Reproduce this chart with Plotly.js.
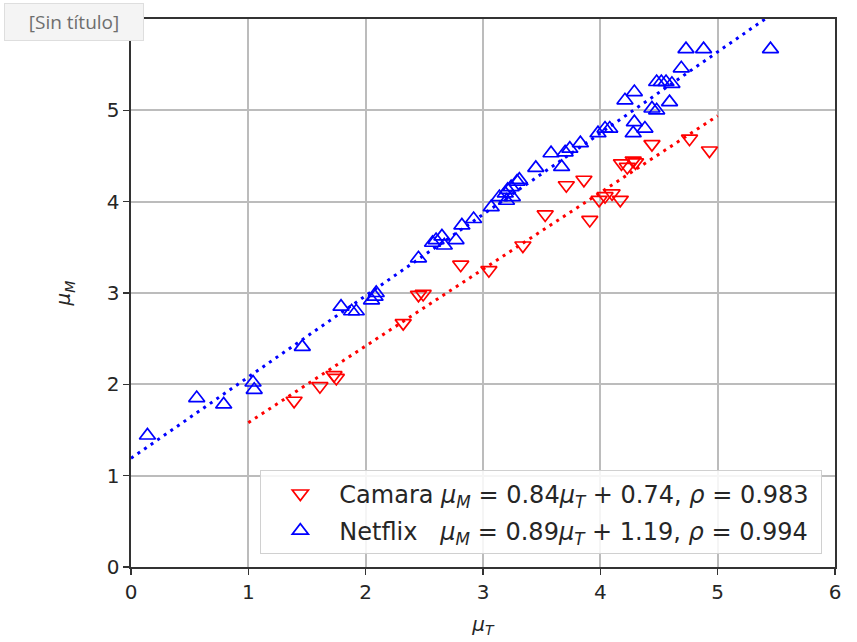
<!DOCTYPE html>
<html>
<head>
<meta charset="utf-8">
<script src="https://cdn.plot.ly/plotly-3.0.1.min.js"></script>
<style>html,body{margin:0;padding:0;background:#fff;}#chart{width:857px;height:642px;}</style>
</head>
<body>
<div id="chart"></div>
<script>
// Camara (down triangles)
const camaraX = [1.39,1.61,1.73,1.75,2.32,2.45,2.49,2.81,3.05,3.34,3.53,3.71,3.86,3.91,3.99,4.04,4.10,4.17,4.18,4.23,4.28,4.30,4.44,4.76,4.93];
const camaraY = [1.82,1.98,2.10,2.07,2.67,2.98,2.99,3.31,3.25,3.52,3.86,4.18,4.24,3.80,4.02,4.06,4.09,4.02,4.42,4.38,4.45,4.43,4.63,4.69,4.56];
// Netflix (up triangles)
const netflixX = [0.14,0.56,0.79,1.04,1.05,1.46,1.79,1.88,1.92,2.05,2.08,2.09,2.45,2.57,2.60,2.65,2.67,2.77,2.82,2.92,3.07,3.14,3.19,3.20,3.21,3.24,3.25,3.29,3.31,3.45,3.58,3.67,3.70,3.74,3.83,3.98,4.04,4.08,4.28,4.29,4.38,4.21,4.29,4.44,4.48,4.59,4.48,4.52,4.56,4.61,4.69,4.73,4.88,5.45];
const netflixY = [1.44,1.85,1.78,2.02,1.94,2.41,2.85,2.80,2.80,2.92,2.96,3.00,3.38,3.55,3.58,3.62,3.52,3.58,3.74,3.81,3.94,4.05,4.09,4.01,4.13,4.16,4.05,4.22,4.24,4.37,4.53,4.38,4.54,4.58,4.64,4.75,4.80,4.80,4.75,4.87,4.80,5.11,5.20,5.02,5.00,5.09,5.31,5.31,5.31,5.29,5.46,5.67,5.67,5.67];
// Linear fits
const camaraFit = {slope: 0.84, intercept: 0.74, rho: 0.983, xs: [1, 5]};
const netflixFit = {slope: 0.89, intercept: 1.19, rho: 0.994, xs: [0, 6]};
const xTicks = [0,1,2,3,4,5,6];
const yTicks = [0,1,2,3,4,5];

const fitY = f => f.xs.map(x => f.slope * x + f.intercept);
const mu = s => '<i>μ</i><sub><i>' + s + '</i></sub>';
const camaraName = 'Camara ' + mu('M') + ' = ' + camaraFit.slope.toFixed(2) + mu('T') + ' + ' + camaraFit.intercept.toFixed(2) + ', <i>ρ</i> = ' + camaraFit.rho.toFixed(3) + '&nbsp;';
const netflixName = 'Netflix&nbsp;&nbsp;&nbsp;' + mu('M') + ' = ' + netflixFit.slope.toFixed(2) + mu('T') + ' + ' + netflixFit.intercept.toFixed(2) + ', <i>ρ</i> = ' + netflixFit.rho.toFixed(3) + '&nbsp;';

const traces = [
  {x: camaraFit.xs, y: fitY(camaraFit), mode: 'lines', line: {color: '#ff0000', width: 3, dash: '3px,5px'}, showlegend: false, hoverinfo: 'skip'},
  {x: netflixFit.xs, y: fitY(netflixFit), mode: 'lines', line: {color: '#0000ff', width: 3, dash: '3px,5px'}, showlegend: false, hoverinfo: 'skip'},
  {x: camaraX, y: camaraY, mode: 'markers', name: camaraName, legendgroup: 'c',
   marker: {symbol: 'triangle-down-open', size: 14, color: '#ff0000', line: {color: '#ff0000', width: 1.7}}},
  {x: netflixX, y: netflixY, mode: 'markers', name: netflixName, legendgroup: 'n',
   marker: {symbol: 'triangle-up-open', size: 14, color: '#0000ff', line: {color: '#0000ff', width: 1.7}}}
];

const axisCommon = {
  showgrid: true, gridcolor: '#bcbcbc', gridwidth: 1.8,
  showline: true, linecolor: '#333333', linewidth: 1.6, mirror: true,
  ticks: 'outside', ticklen: 6, tickwidth: 1.4, tickcolor: '#333333',
  zeroline: false, tickfont: {family: 'DejaVu Sans', size: 20, color: '#262626'},
  tickmode: 'array'
};

const layout = {
  width: 857, height: 642,
  margin: {l: 131, r: 22, t: 19, b: 75},
  paper_bgcolor: '#ffffff', plot_bgcolor: '#ffffff',
  showlegend: true,
  xaxis: Object.assign({}, axisCommon, {range: [0, 6], tickvals: xTicks,
    title: {text: mu('T'), font: {family: 'DejaVu Sans', size: 20, color: '#262626'}, standoff: 14}}),
  yaxis: Object.assign({}, axisCommon, {range: [0, 6], tickvals: yTicks,
    title: {text: mu('M'), font: {family: 'DejaVu Sans', size: 20, color: '#262626'}, standoff: 30}}),
  legend: {x: 0.982, y: 0.023, xanchor: 'right', yanchor: 'bottom',
    bgcolor: 'rgba(255,255,255,0.85)', bordercolor: '#d0d0d0', borderwidth: 1,
    font: {family: 'DejaVu Sans', size: 24, color: '#262626'},
    traceorder: 'grouped', tracegroupgap: 3, itemwidth: 68},
  annotations: [{
    xref: 'paper', yref: 'paper', x: -0.180, y: 1.029, xanchor: 'left', yanchor: 'top',
    text: '[Sin título]', showarrow: false, width: 130, height: 28, align: 'center',
    font: {family: 'Open Sans', size: 19, color: '#6e6e6e'},
    bgcolor: '#f4f4f4', bordercolor: '#dedede', borderwidth: 1, borderpad: 4
  }]
};

Plotly.newPlot('chart', traces, layout, {displayModeBar: false, staticPlot: true});
</script>
</body>
</html>
